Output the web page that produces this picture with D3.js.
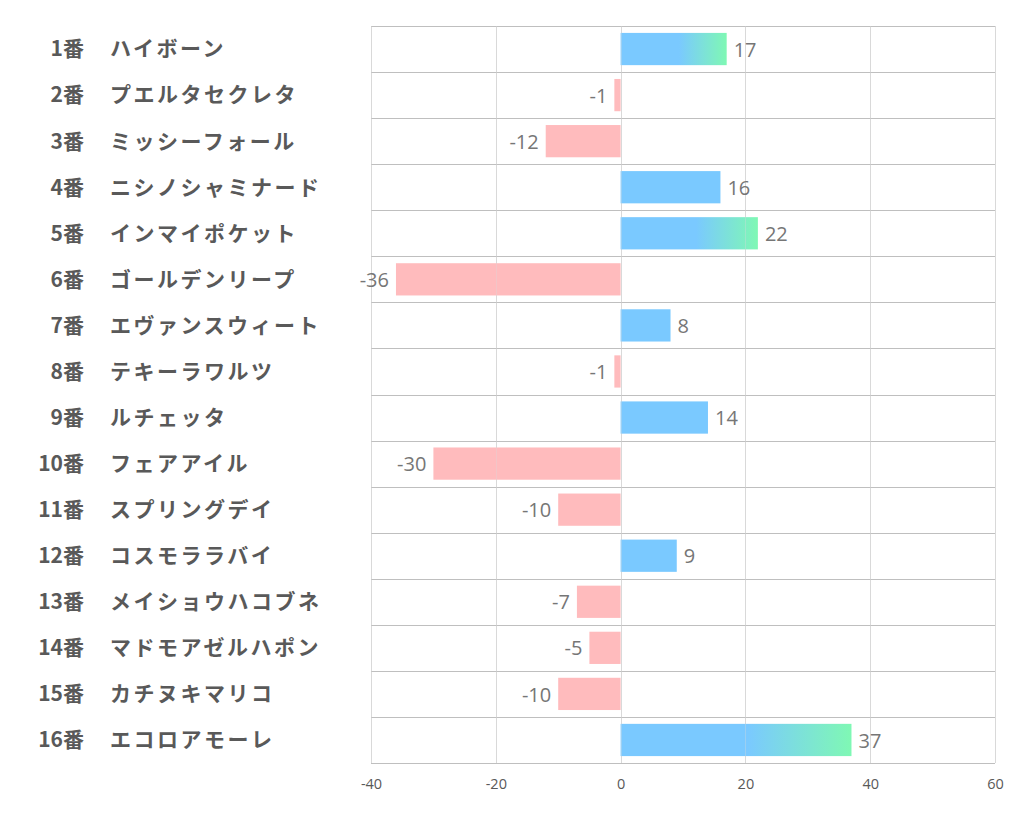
<!DOCTYPE html>
<html><head><meta charset="utf-8">
<script src="https://cdn.jsdelivr.net/npm/d3@7"></script>
<style>body{margin:0;background:#fff}svg{display:block}</style>
</head><body>
<svg id="c" width="1022" height="834"></svg>
<script>
const numbers = ["1番","2番","3番","4番","5番","6番","7番","8番","9番","10番","11番","12番","13番","14番","15番","16番"];
const names = ["ハイボーン","プエルタセクレタ","ミッシーフォール","ニシノシャミナード","インマイポケット","ゴールデンリープ","エヴァンスウィート","テキーラワルツ","ルチェッタ","フェアアイル","スプリングデイ","コスモララバイ","メイショウハコブネ","マドモアゼルハポン","カチヌキマリコ","エコロアモーレ"];
const values = [17,-1,-12,16,22,-36,8,-1,14,-30,-10,9,-7,-5,-10,37];
const xTicks = [-40,-20,0,20,40,60];

(function(){
const svg = d3.select("#c");
const mL = 371, mR = 995, mT = 26, mB = 763;
const x = d3.scaleLinear().domain([-40,60]).range([mL,mR]);
const y = d3.scaleBand().domain(d3.range(values.length)).range([mT,mB]).paddingInner(0.3).paddingOuter(0.15);
const step = y.step();

const top3 = values.slice().sort((a,b)=>b-a).slice(0,3);
const defs = svg.append("defs");
const g = defs.append("linearGradient").attr("id","grad").attr("x1","0").attr("x2","1").attr("y1","0").attr("y2","0");
g.append("stop").attr("offset","55%").attr("stop-color","#7ac9ff");
g.append("stop").attr("offset","100%").attr("stop-color","#7ff8b4");

svg.append("g").selectAll("line").data(xTicks).join("line")
  .attr("x1",d=>Math.round(x(d))+0.5).attr("x2",d=>Math.round(x(d))+0.5).attr("y1",mT).attr("y2",mB)
  .attr("stroke","#d9d9d9").attr("stroke-width",1);

svg.append("g").selectAll("line").data(d3.range(values.length+1)).join("line")
  .attr("x1",mL).attr("x2",mR)
  .attr("y1",i=>Math.round(mT+i*step)+0.5).attr("y2",i=>Math.round(mT+i*step)+0.5)
  .attr("stroke","#bfbfbf").attr("stroke-width",1);

svg.append("g").selectAll("rect").data(values).join("rect")
  .attr("x",d=>x(Math.min(0,d))).attr("width",d=>Math.abs(x(d)-x(0)))
  .attr("y",(d,i)=>y(i)).attr("height",y.bandwidth())
  .attr("fill",d=> d<0 ? "#ffbbbd" : (top3.includes(d) ? "url(#grad)" : "#7ac9ff"));

svg.append("g").selectAll("line").data(xTicks).join("line")
  .attr("x1",d=>Math.round(x(d))+0.5).attr("x2",d=>Math.round(x(d))+0.5).attr("y1",mT).attr("y2",mB)
  .attr("stroke","#d9d9d9").attr("stroke-opacity",0.35).attr("stroke-width",1);

svg.append("g").selectAll("text").data(values).join("text")
  .attr("x",d=> d<0 ? x(d)-7 : x(d)+7)
  .attr("y",(d,i)=>y(i)+y.bandwidth()/2)
  .attr("dy","0.38em")
  .attr("text-anchor",d=>d<0?"end":"start")
  .attr("font-family","'Open Sans','Noto Sans',sans-serif").attr("font-size",20)
  .attr("fill","#767676").text(d=>d);

const lab = svg.append("g").attr("font-family","'Noto Sans CJK JP',sans-serif").attr("font-weight","bold").attr("font-size",21).attr("fill","#595959");
lab.selectAll("text.n").data(numbers).join("text").attr("class","n")
  .attr("x",84).attr("y",(d,i)=>y(i)+y.bandwidth()/2).attr("dy","0.35em").attr("text-anchor","end").text(d=>d);
lab.selectAll("text.m").data(names).join("text").attr("class","m")
  .attr("x",110).attr("y",(d,i)=>y(i)+y.bandwidth()/2).attr("dy","0.35em").attr("text-anchor","start")
  .attr("letter-spacing","2.5px").text(d=>d);

const ax = svg.append("g").attr("transform",`translate(0,${mB})`)
  .call(d3.axisBottom(x).tickValues(xTicks).tickFormat(d=>String(d)).tickSize(0).tickPadding(16));
ax.select(".domain").remove();
ax.selectAll("text").attr("font-family","'Open Sans','Noto Sans',sans-serif").attr("font-size",14.5).attr("fill","#595959");
})();
</script>
</body></html>
